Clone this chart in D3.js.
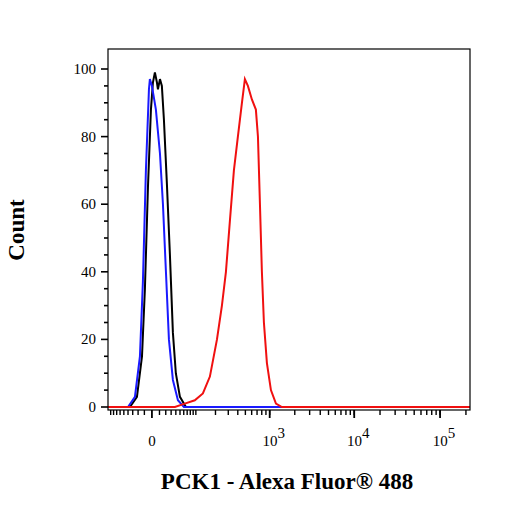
<!DOCTYPE html><html><head><meta charset="utf-8">
<script src="https://cdn.jsdelivr.net/npm/d3@7"></script>
<style>body{margin:0;background:#fff}</style></head><body><svg id="c" width="506" height="506"></svg>
<script>
const blueX=[-100,-40,-25.7,-16.9,-12.2,-7.8,-3.7,-2.5,0,5,10.7,15.3,20.3,25.7,33.6,44.9,60.4,223000];
const blueY=[0,0,3,15,37,70,94,97,95,88,75,60,40,20,8,2,0,0];
const blackX=[-100,-35.8,-22,-13.6,-9.2,-5,-1.2,1.2,3.7,6.4,7.8,10.7,13.6,16.9,22,27.6,33.6,40,49.8,66.3,223000];
const blackY=[0,0,3,15,35,65,88,96,99,96,94,97,95,85,66,45,22,10,3,0,0];
const redX=[-100,38,63,96,130,166,210,246,279,315,356,401,452,493,538,604,677,718,760,803,850,925,1035,1190,1405,223000];
const redY=[0,0,1,2,4,9,20,30,40,55,70,80,90,97,95,91,88,80,60,40,25,13,5,1,0,0];
const yTicks=[0,20,40,60,80,100];
const xMajor=[0,1e3,1e4,1e5];
const xLabels=[["0",""],["10","3"],["10","4"],["10","5"]];
const xLabel="PCK1 - Alexa Fluor® 488", yLabel="Count";

const svg=d3.select("#c");
const L=108,R=470,T=49,B=410;
const x=d3.scaleSymlog().constant(44.6).domain([-100,223000]).range([L,R]);
const y=d3.scaleLinear().domain([0,100]).range([407,69]);
const line=d3.line().x(d=>x(d[0])).y(d=>y(d[1]));
[[blackX,blackY,"#000"],[blueX,blueY,"#1a1aff"],[redX,redY,"#f01010"]].forEach(([xs,ys,c])=>{
  svg.append("path").attr("d",line(xs.map((v,i)=>[v,ys[i]]))).attr("fill","none").attr("stroke",c).attr("stroke-width",2);
});
svg.append("rect").attr("x",L).attr("y",T).attr("width",R-L).attr("height",B-T).attr("fill","none").attr("stroke","#000").attr("stroke-width",1.2);
const yMinor=d3.range(0,101,5);
svg.selectAll(".ym").data(yMinor).join("line").attr("x1",L).attr("x2",d=>d%20===0?L-7:L-4).attr("y1",d=>y(d)).attr("y2",d=>y(d)).attr("stroke","#000").attr("stroke-width",1.6);
svg.selectAll(".yl").data(yTicks).join("text").attr("x",L-12).attr("y",d=>y(d)+5).attr("text-anchor","end").attr("font-family","Liberation Serif").attr("font-size",15).text(d=>d);
let xMinor=d3.range(-90,0,10).concat(d3.range(10,100,10));
for(const k of [100,1000,10000,100000]) for(let m=1;m<10;m++){const v=m*k; if(v<=223000) xMinor.push(v);}
svg.selectAll(".xm").data(xMinor).join("line").attr("x1",d=>x(d)).attr("x2",d=>x(d)).attr("y1",B).attr("y2",B+5).attr("stroke","#000").attr("stroke-width",1.4);
svg.selectAll(".xM").data(xMajor).join("line").attr("x1",d=>x(d)).attr("x2",d=>x(d)).attr("y1",B).attr("y2",B+8).attr("stroke","#000").attr("stroke-width",1.8);
xMajor.forEach((v,i)=>{
  const t=svg.append("text").attr("x",x(v)+(i?4:0)).attr("y",446).attr("text-anchor","middle").attr("font-family","Liberation Serif").attr("font-size",15);
  t.append("tspan").text(xLabels[i][0]);
  if(xLabels[i][1]) t.append("tspan").attr("dy",-8).attr("font-size",15).text(xLabels[i][1]);
});
svg.append("text").attr("x",287).attr("y",489).attr("text-anchor","middle").attr("font-family","Liberation Serif").attr("font-size",23).attr("font-weight","bold").text(xLabel);
svg.append("text").attr("transform","translate(24,230) rotate(-90)").attr("text-anchor","middle").attr("font-family","Liberation Serif").attr("font-size",23).attr("font-weight","bold").text(yLabel);
</script></body></html>
